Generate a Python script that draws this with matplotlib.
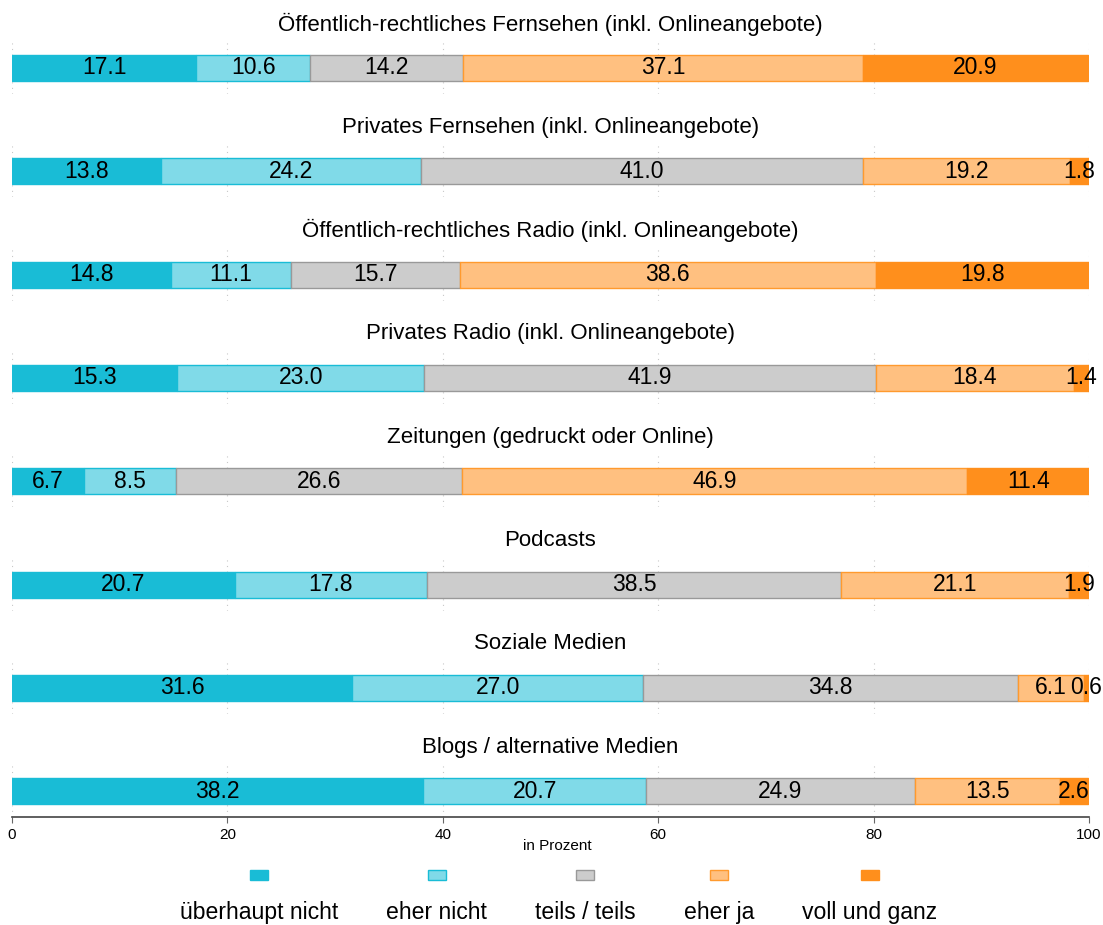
import matplotlib
matplotlib.use("Agg")
import matplotlib.pyplot as plt
from matplotlib.patches import Rectangle

plt.rcParams['font.family'] = ['Liberation Sans', 'DejaVu Sans']

titles = [
    "Öffentlich-rechtliches Fernsehen (inkl. Onlineangebote)",
    "Privates Fernsehen (inkl. Onlineangebote)",
    "Öffentlich-rechtliches Radio (inkl. Onlineangebote)",
    "Privates Radio (inkl. Onlineangebote)",
    "Zeitungen (gedruckt oder Online)",
    "Podcasts",
    "Soziale Medien",
    "Blogs / alternative Medien",
]
categories = ["überhaupt nicht", "eher nicht", "teils / teils", "eher ja", "voll und ganz"]
ueberhaupt_nicht = [17.1, 13.8, 14.8, 15.3, 6.7, 20.7, 31.6, 38.2]
eher_nicht = [10.6, 24.2, 11.1, 23.0, 8.5, 17.8, 27.0, 20.7]
teils_teils = [14.2, 41.0, 15.7, 41.9, 26.6, 38.5, 34.8, 24.9]
eher_ja = [37.1, 19.2, 38.6, 18.4, 46.9, 21.1, 6.1, 13.5]
voll_und_ganz = [20.9, 1.8, 19.8, 1.4, 11.4, 1.9, 0.6, 2.6]
series = [ueberhaupt_nicht, eher_nicht, teils_teils, eher_ja, voll_und_ganz]
xticks = [0, 20, 40, 60, 80, 100]

fills = ["#19BCD6", "#80DAE8", "#CCCCCC", "#FFC080", "#FF8F1C"]
edges = ["#19BCD6", "#19BCD6", "#999999", "#FF9A2E", "#FF8F1C"]

W, H = 1103, 925
fig = plt.figure(figsize=(W / 100, H / 100), dpi=100)

left_px, right_px = 12, 1089
c0, step = 68, 103.3
half = 26

for i, t in enumerate(titles):
    c = c0 + step * i
    ax = fig.add_axes([left_px / W, 1 - (c + half) / H, (right_px - left_px) / W, 2 * half / H])
    ax.set_xlim(0, 100)
    ax.set_ylim(-1, 1)
    ax.set_xticks(xticks)
    ax.set_yticks([])
    ax.grid(axis='x', linestyle=(0, (1, 4)), color='#c8c8c8', linewidth=0.8)
    ax.set_axisbelow(True)
    for s in ax.spines.values():
        s.set_visible(False)
    lefts = 0.0
    for k, ser in enumerate(series):
        v = ser[i]
        b = ax.barh([0], [v], left=[lefts], height=1.0, color=fills[k],
                    edgecolor=edges[k], linewidth=1.0, zorder=2)
        ax.bar_label(b, labels=[f"{v:.1f}"], label_type='center', fontsize=16.5, color='black', zorder=3)
        lefts += v
    ax.text(0.5, 1 + 18 / (2 * half), t, transform=ax.transAxes, ha='center', va='center', fontsize=16)
    if i < len(titles) - 1:
        ax.tick_params(axis='x', length=0, labelbottom=False)
    else:
        ax.spines['bottom'].set_visible(True)
        ax.spines['bottom'].set_color('#444444')
        ax.spines['bottom'].set_linewidth(1.2)
        ax.tick_params(axis='x', length=4, width=0.8, color='#666666', labelsize=11, pad=4)

fig.text(557 / W, 1 - 846 / H, "in Prozent", ha='center', va='center', fontsize=11)

# legend: patches above labels, labels laid out with constant gap
fig.canvas.draw()
renderer = fig.canvas.get_renderer()
gap = 48
x = 180
label_base = 919
patch_y = 875
for k, name in enumerate(categories):
    txt = fig.text(x / W, 1 - label_base / H, name, ha='left', va='baseline', fontsize=16.6)
    bb = txt.get_window_extent(renderer)
    w = bb.width
    cx = x + w / 2
    fig.patches.append(Rectangle(((cx - 9) / W, 1 - (patch_y + 5) / H), 18 / W, 10 / H,
                                 transform=fig.transFigure, facecolor=fills[k],
                                 edgecolor=edges[k], linewidth=1.0))
    x += w + gap

fig.savefig("out.png", dpi=100)
